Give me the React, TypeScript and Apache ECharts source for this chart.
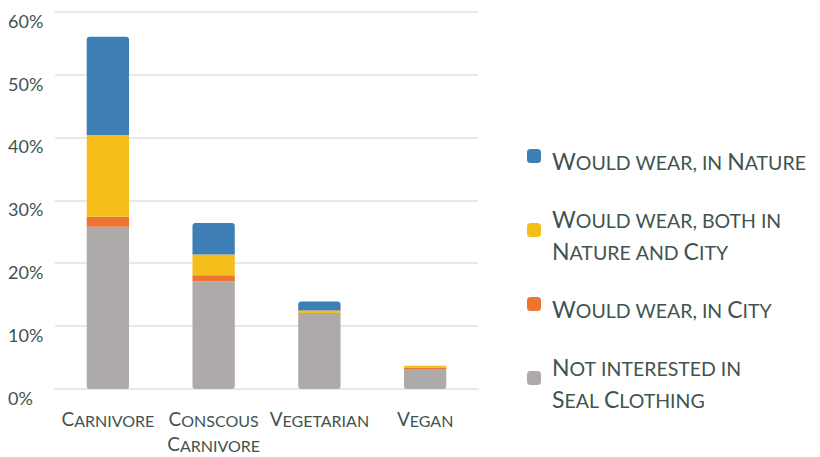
import React, { useEffect, useRef } from "react";
import * as echarts from "echarts";

const categories = ["Carnivore", "Conscous\nCarnivore", "Vegetarian", "Vegan"];
const seriesNames = [
  "Not interested in\nSeal Clothing",
  "Would wear, in City",
  "Would wear, both in\nNature and City",
  "Would wear, in Nature",
];
const notInterested = [25.8, 17.1, 12.1, 3.2];
const inCity = [1.6, 1.0, 0.0, 0.2];
const bothNatureCity = [13.0, 3.3, 0.4, 0.3];
const inNature = [15.6, 5.0, 1.4, 0.0];
const colors = ["#aeaaa9", "#ec7533", "#f6be1a", "#3d7fb6"];
const legendOrder = [
  "Would wear, in Nature",
  "Would wear, both in\nNature and City",
  "Would wear, in City",
  "Not interested in\nSeal Clothing",
];

const TEXT = "#3f5450";
const FONT = "Lato";

function smallCaps(s: string, big: string, small: string) {
  return s
    .split("\n")
    .map((line) =>
      line
        .split(" ")
        .map((w) => {
          if (!w) return "";
          const first = w[0];
          const rest = w.slice(1);
          const out: string[] = [];
          if (first === first.toUpperCase() && /[A-Za-z]/.test(first)) {
            out.push(`{${big}|${first}}`);
          } else {
            out.push(`{${small}|${first.toUpperCase()}}`);
          }
          if (rest) out.push(`{${small}|${rest.toUpperCase()}}`);
          return out.join("");
        })
        .join(`{${small}| }`)
    )
    .join("\n");
}

export default function App() {
  const ref = useRef<HTMLDivElement>(null);
  useEffect(() => {
    if (!ref.current) return;
    const chart = echarts.init(ref.current, null, { renderer: "svg" });
    const values = [notInterested, inCity, bothNatureCity, inNature];
    chart.setOption({
      animation: false,
      textStyle: { fontFamily: FONT, color: TEXT },
      grid: { left: 55, right: 342, top: 11.7, bottom: 68, containLabel: false, outerBoundsMode: "none" },
      legend: {
        orient: "vertical",
        left: 527,
        top: 149,
        padding: 0,
        itemGap: 35,
        itemWidth: 14,
        itemHeight: 14,
        icon: "roundRect",
        data: legendOrder,
        formatter: (name: string) => smallCaps(name, "b", "s"),
        textStyle: {
          color: TEXT,
          padding: [0, 0, 0, 6],
          rich: {
            b: { fontSize: 23, fontFamily: FONT, color: TEXT, verticalAlign: "bottom", lineHeight: 32 },
            s: { fontSize: 19.5, fontFamily: FONT, color: TEXT, verticalAlign: "bottom", lineHeight: 32 },
          },
        },
      },
      xAxis: {
        type: "category",
        data: categories,
        axisLine: { show: true, lineStyle: { color: "#e8e8e8", width: 2 } },
        axisTick: { show: false },
        axisLabel: {
          margin: 14,
          interval: 0,
          formatter: (v: string) => smallCaps(v, "b", "s"),
          rich: {
            b: { fontSize: 19, fontFamily: FONT, color: TEXT, verticalAlign: "bottom", lineHeight: 25 },
            s: { fontSize: 16, fontFamily: FONT, color: TEXT, verticalAlign: "bottom", lineHeight: 25 },
          },
        },
      },
      yAxis: {
        type: "value",
        min: 0,
        max: 60,
        interval: 10,
        axisLine: { show: false },
        axisTick: { show: false },
        splitLine: { lineStyle: { color: "#e8e8e8", width: 2 } },
        axisLabel: {
          formatter: "{value}%",
          align: "left",
          verticalAlign: "top",
          margin: 47,
          fontSize: 18,
          color: TEXT,
          fontFamily: FONT,
          padding: [0, 0, 0, 0],
        },
      },
      series: seriesNames.map((name, i) => ({
        name,
        type: "bar",
        stack: "total",
        barWidth: "40%",
        data: values[i],
        itemStyle: { color: colors[i], borderRadius: i === 0 ? [0, 0, 3, 3] : i === 3 ? [3, 3, 0, 0] : 0 },
      })),
    });
    return () => chart.dispose();
  }, []);
  return (
    <div
      ref={ref}
      style={{ position: "absolute", left: 0, top: 0, width: 820, height: 457 }}
    />
  );
}
